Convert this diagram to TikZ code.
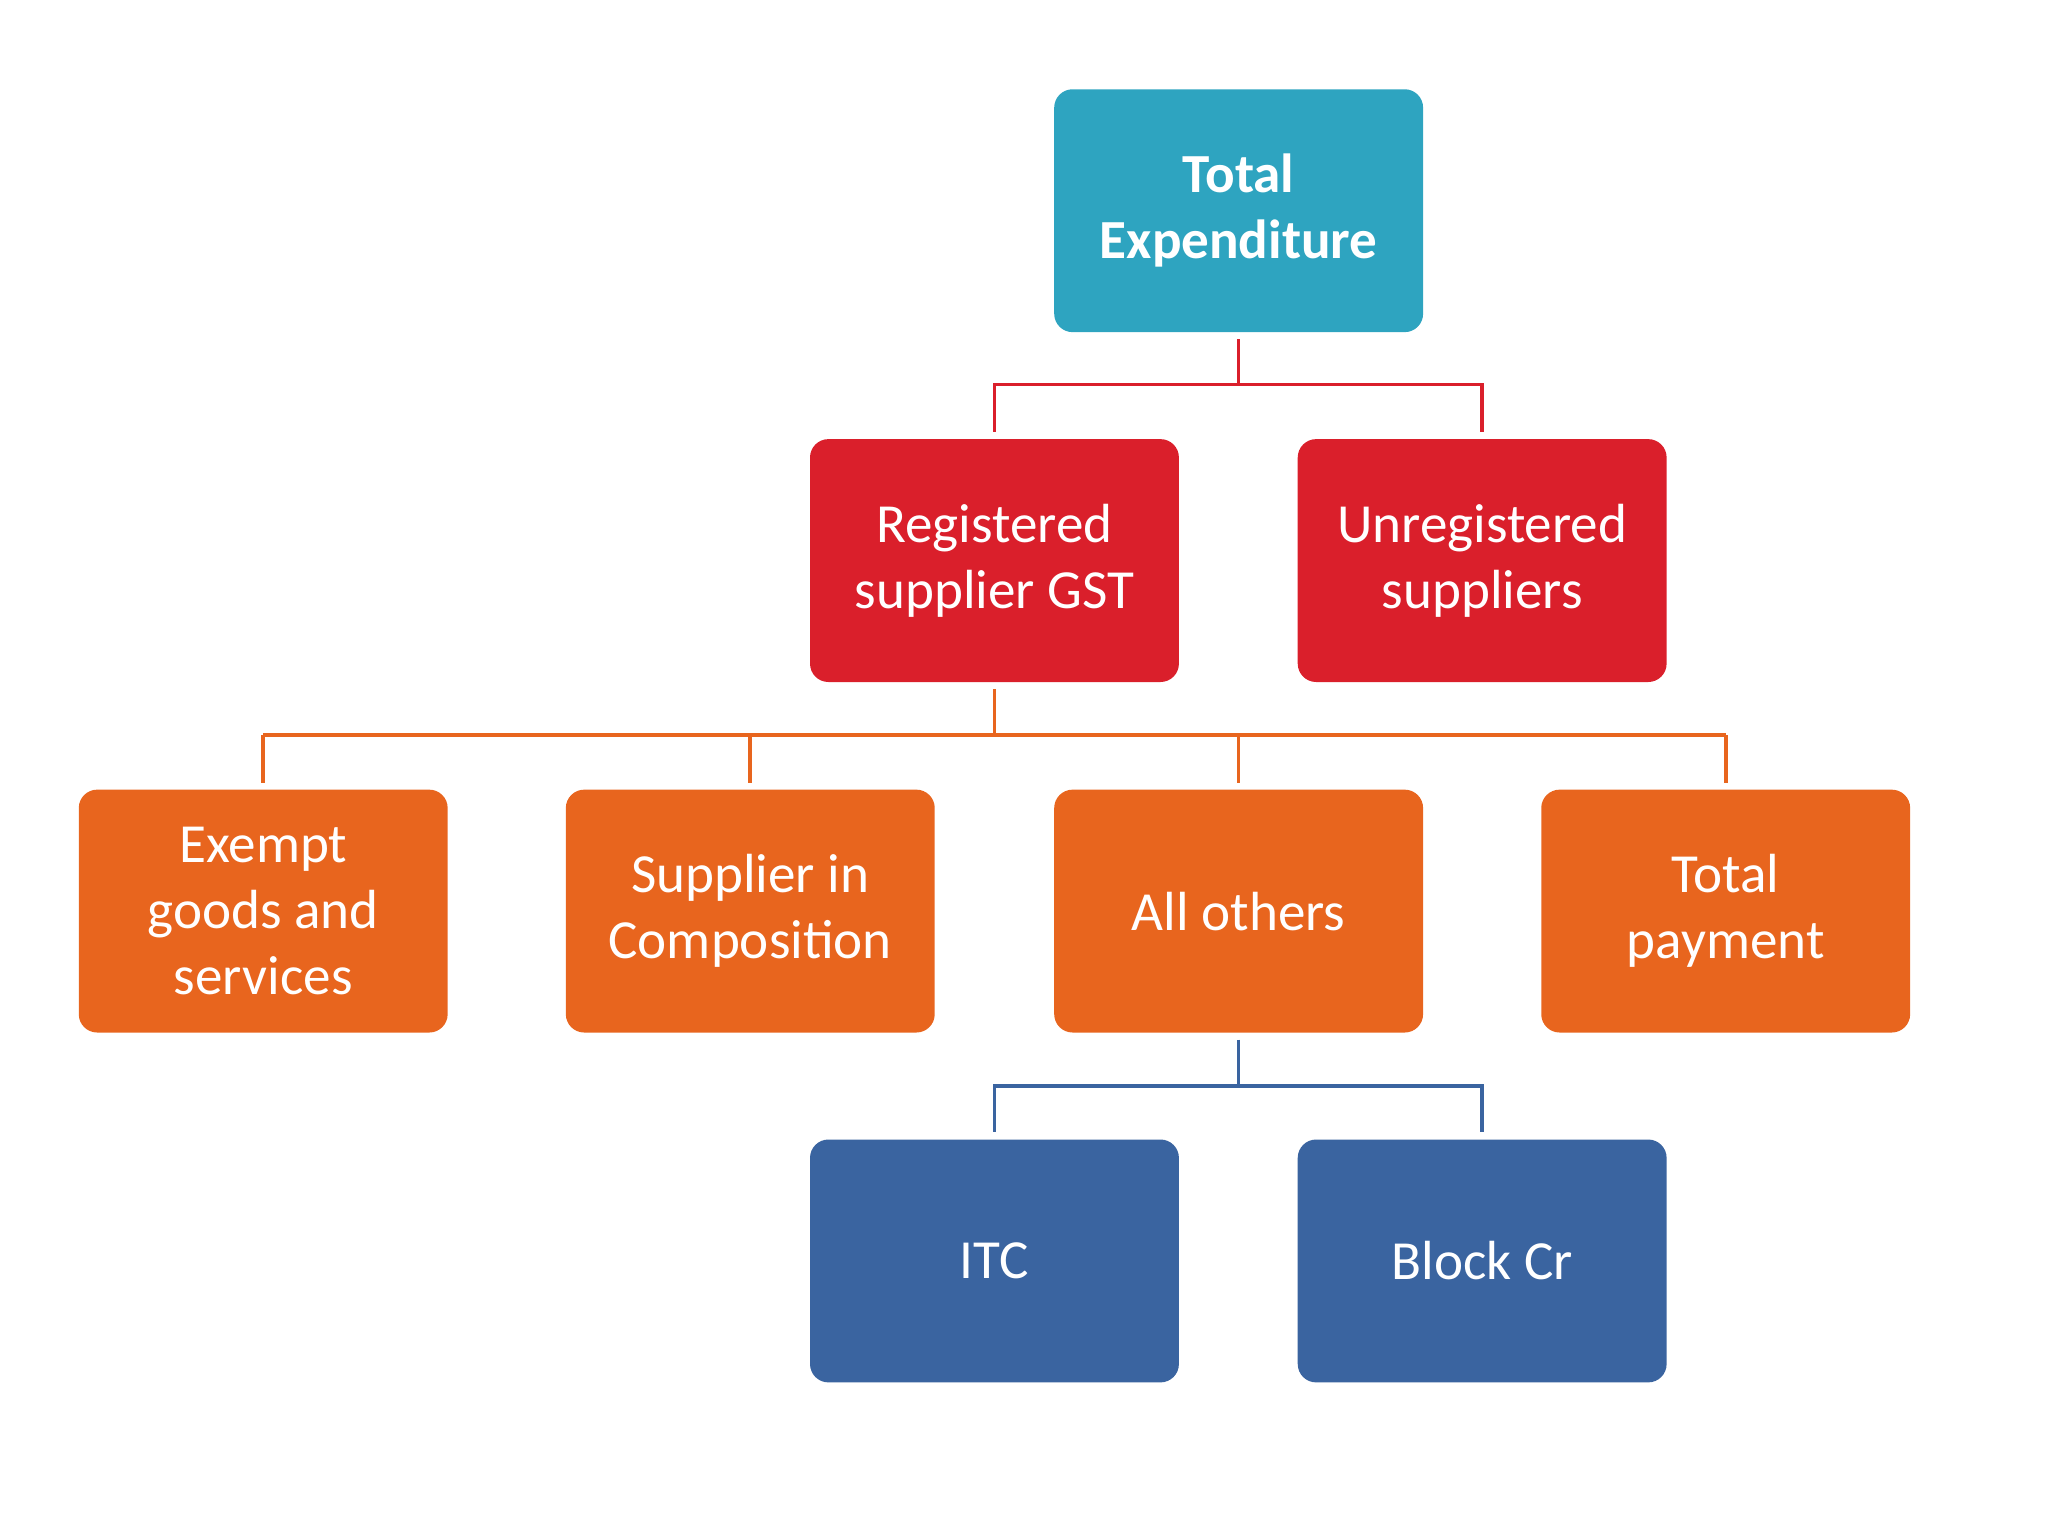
\documentclass[tikz,border=0pt]{standalone}
\usepackage{fontspec}
\setmainfont{Carlito}
\begin{document}
\begin{tikzpicture}[x=0.5pt,y=-0.5pt,
 box/.style={rounded corners=7pt,minimum width=140.5pt,minimum height=92.5pt,inner sep=0pt,align=center,text=white,font=\fontsize{21}{25}\selectfont},
 conn/.style={line width=1.4pt}]
\definecolor{cteal}{HTML}{2EA4C0}
\definecolor{cred}{HTML}{DA1F2B}
\definecolor{corange}{HTML}{E8651E}
\definecolor{cblue}{HTML}{3A64A0}
\useasboundingbox (0,0) rectangle (1560,1170);
\node[box,fill=cteal,font=\fontsize{21}{25}\selectfont\bfseries] (te) at (943.5,160.5) {Total\\Expenditure};
\node[box,fill=cred] (reg) at (757.5,427) {Registered\\supplier GST};
\node[box,fill=cred] (unr) at (1129,427) {Unregistered\\suppliers};
\node[box,fill=corange] (ex) at (200.5,694) {Exempt\\goods and\\services};
\node[box,fill=corange] (comp) at (571.5,694) {Supplier in\\Composition};
\node[box,fill=corange] (oth) at (943.5,694) {All others};
\node[box,fill=corange] (tp) at (1314.5,694) {Total\\payment};
\node[box,fill=cblue] (itc) at (757.5,960.5) {ITC};
\node[box,fill=cblue] (blk) at (1129,960.5) {Block Cr};
\draw[conn,cred] ([yshift=-2.5pt]te.south) |- (757.5,293) -- ([yshift=2.5pt]reg.north);
\draw[conn,cred] (943.5,293) -| ([yshift=2.5pt]unr.north);
\draw[conn,corange] ([yshift=-2.5pt]reg.south) -- (757.5,560);
\draw[conn,corange] (200.5,560) -- (1314.5,560);
\foreach \n in {ex,comp,oth,tp} \draw[conn,corange] (\n.north |- 0,560) -- ([yshift=2.5pt]\n.north);
\draw[conn,cblue] ([yshift=-2.5pt]oth.south) |- (757.5,827) -- ([yshift=2.5pt]itc.north);
\draw[conn,cblue] (943.5,827) -| ([yshift=2.5pt]blk.north);
\end{tikzpicture}
\end{document}
